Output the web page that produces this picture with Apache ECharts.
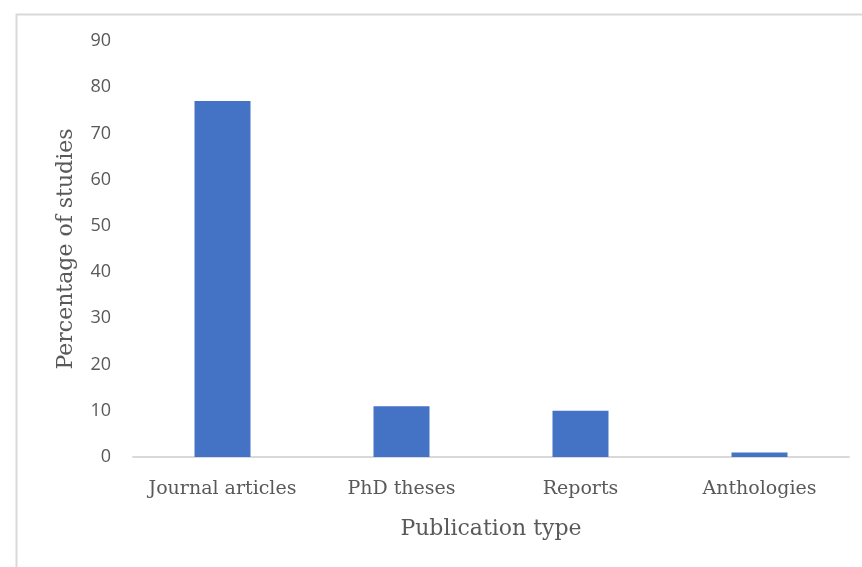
<!DOCTYPE html>
<html>
<head>
<meta charset="utf-8">
<script src="https://cdn.jsdelivr.net/npm/echarts@6/dist/echarts.min.js"></script>
<style>
html,body{margin:0;padding:0;background:#fff;}
#c{width:862px;height:567px;}
</style>
</head>
<body>
<div id="c"></div>
<script>
const categories = ['Journal articles', 'PhD theses', 'Reports', 'Anthologies'];
const values = [77, 11, 10, 1];
const yTicks = [0, 10, 20, 30, 40, 50, 60, 70, 80, 90];

const chart = echarts.init(document.getElementById('c'), null, {renderer: 'canvas'});
chart.setOption({
  animation: false,
  backgroundColor: '#fff',
  graphic: [{
    type: 'polyline',
    shape: {points: [[16.5, 567], [16.5, 14.5], [862, 14.5]]},
    style: {stroke: '#d9d9d9', lineWidth: 2, fill: null}
  }],
  grid: {left: 133, right: 13, top: 41, bottom: 110, containLabel: false},
  xAxis: {
    type: 'category',
    data: categories,
    name: 'Publication type',
    nameLocation: 'middle',
    nameGap: 61,
    nameTextStyle: {fontFamily: 'DejaVu Serif', fontSize: 22, color: '#595959'},
    axisLine: {lineStyle: {color: '#d9d9d9', width: 2}},
    axisTick: {show: false},
    axisLabel: {fontFamily: 'DejaVu Serif', fontSize: 19, color: '#595959', margin: 23, interval: 0}
  },
  yAxis: {
    type: 'value',
    min: yTicks[0],
    max: yTicks[yTicks.length - 1],
    interval: 10,
    name: 'Percentage of studies',
    nameLocation: 'middle',
    nameGap: 56,
    nameRotate: 90,
    nameTextStyle: {fontFamily: 'DejaVu Serif', fontSize: 22, color: '#595959'},
    axisLine: {show: false},
    axisTick: {show: false},
    splitLine: {show: false},
    axisLabel: {fontFamily: 'Open Sans', fontSize: 18, color: '#595959', margin: 22}
  },
  series: [{
    type: 'bar',
    data: values,
    barWidth: 56,
    itemStyle: {color: '#4472c4'}
  }]
});
</script>
</body>
</html>
